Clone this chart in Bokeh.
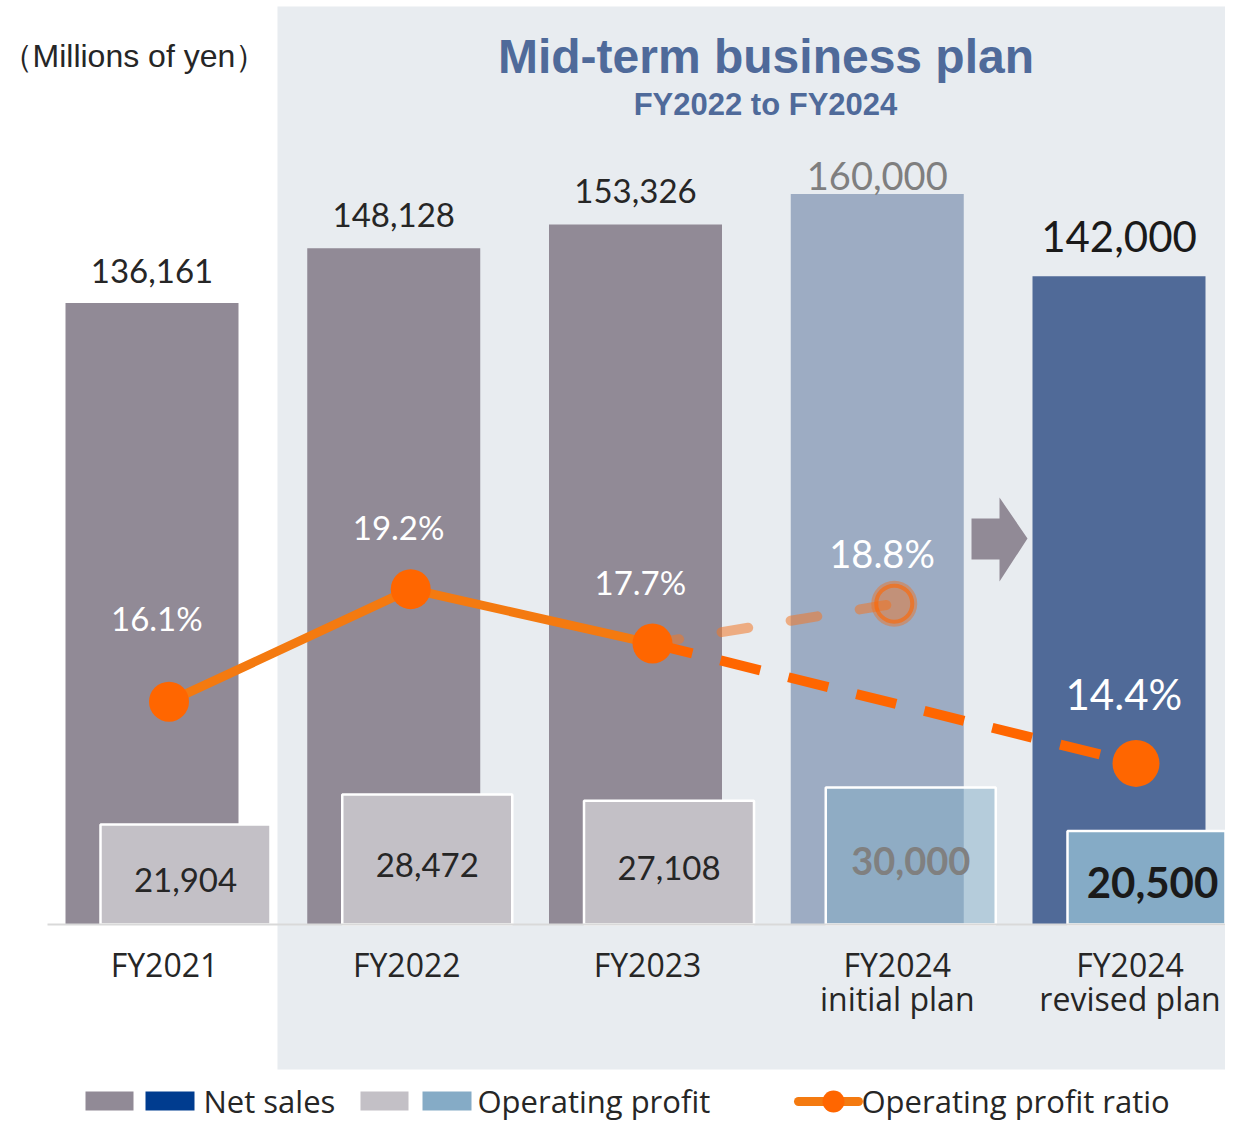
from bokeh.plotting import figure
from bokeh.models import Range1d
from bokeh.core.properties import value
from bokeh.embed import file_html
from bokeh.resources import INLINE

# ---------------- data ----------------
categories = ["FY2021", "FY2022", "FY2023", "FY2024\ninitial plan", "FY2024\nrevised plan"]
net_sales = [136161, 148128, 153326, 160000, 142000]
operating_profit = [21904, 28472, 27108, 30000, 20500]
profit_ratio = [16.1, 19.2, 17.7, 18.8, 14.4]

# ---------------- layout (pixels) ----------------
W, H = 1225, 1120
CAT_PX = 241.75          # px between categories
FIRST_PX = 151.5         # px of first category centre
BASE_PX = 924            # px of the zero line
Y_PER_PX = 219.06        # millions of yen per px
R_PX_PER_UNIT = 36.3     # px per percentage point
R_TOP = 35.416

x_range = Range1d(-FIRST_PX / CAT_PX, (W - FIRST_PX) / CAT_PX)
y_range = Range1d(-(H - BASE_PX) * Y_PER_PX, BASE_PX * Y_PER_PX)
ratio_range = Range1d(R_TOP - H / R_PX_PER_UNIT, R_TOP)


def fx(px):
    return x_range.start + px / CAT_PX


def fy(py):
    return y_range.end - py * Y_PER_PX


p = figure(width=W, height=H, x_range=x_range, y_range=y_range,
           output_backend="svg", toolbar_location=None,
           min_border=0, min_border_left=0, min_border_right=0,
           min_border_top=0, min_border_bottom=0)
p.extra_y_ranges = {"ratio": ratio_range}
p.xaxis.visible = False
p.yaxis.visible = False
p.grid.visible = False
p.outline_line_color = None
p.background_fill_color = "white"
p.border_fill_color = "white"

# mid-term plan panel
p.quad(left=[fx(277)], right=[x_range.end], top=[fy(6)], bottom=[fy(1069)],
       fill_color="#E8ECF0", line_color=None)

xs = list(range(len(categories)))

# net sales bars
net_colors = ["#918A96", "#918A96", "#918A96", "#9DACC3", "#506A98"]
p.vbar(x=xs, top=net_sales, bottom=0, width=173 / CAT_PX,
       fill_color=net_colors, line_color=None)

# operating profit bars
op_x = [i + 33.5 / CAT_PX for i in xs]
op_colors = ["#C3C0C6", "#C3C0C6", "#C3C0C6", "#81ACC6", "#85ABC6"]
op_alpha = [1, 1, 1, 0.5, 1]
p.vbar(x=op_x, top=operating_profit, bottom=0, width=170 / CAT_PX,
       fill_color=op_colors, fill_alpha=op_alpha,
       line_color="white", line_width=2.5)

# baseline
p.line(x=[fx(47), x_range.end], y=[0, 0], line_color="#D9D9D9", line_width=2)

# arrow between initial and revised plan
arrow_px = [(971, 518), (999, 518), (999, 497), (1027, 538), (999, 581), (999, 559), (971, 559)]
p.patch(x=[fx(a) for a, b in arrow_px], y=[fy(b) for a, b in arrow_px],
        fill_color="#918A96", line_color=None)

# operating profit ratio line
rx = [i + 17 / CAT_PX for i in xs]
p.line(x=[rx[2], rx[3]], y=[profit_ratio[2], profit_ratio[3]], y_range_name="ratio",
       line_color="#F07828", line_alpha=0.55, line_width=10, line_dash="27 43",
       line_cap="round")
p.line(x=[rx[2], rx[4]], y=[profit_ratio[2], profit_ratio[4]], y_range_name="ratio",
       line_color="#FF6600", line_width=10, line_dash="41 29")
p.line(x=rx[:3], y=profit_ratio[:3], y_range_name="ratio",
       line_color="#F47A10", line_width=9, line_join="round")
p.scatter(x=[rx[0], rx[1], rx[2], rx[4]],
          y=[profit_ratio[0], profit_ratio[1], profit_ratio[2], profit_ratio[4]],
          size=[40, 40, 40, 47], y_range_name="ratio",
          fill_color="#FF6600", line_color=None)
p.scatter(x=[rx[3]], y=[profit_ratio[3]], size=46, y_range_name="ratio",
          fill_color="#F07020", fill_alpha=0.45, line_color=None)
p.scatter(x=[rx[3]], y=[profit_ratio[3]], size=36, y_range_name="ratio",
          fill_color=None, line_color="#FF6600", line_alpha=0.6, line_width=4)

# ---------------- labels ----------------
num_font = value("Lato")
cat_font = value("Open Sans")

net_lbl = [f"{v:,}" for v in net_sales]
net_lift = [32, 33, 34, 18, 40]
net_size = ["33px", "33px", "33px", "38px", "42px"]
net_color = ["#262626", "#262626", "#262626", "#7F7F7F", "#1A1A1A"]
for i in xs:
    p.text(x=[i], y=[net_sales[i] + net_lift[i] * Y_PER_PX], text=[net_lbl[i]],
           text_font=num_font, text_font_size=net_size[i], text_color=net_color[i],
           text_align="center", text_baseline="middle")

op_lbl = [f"{v:,}" for v in operating_profit]
op_size = ["33px", "33px", "33px", "38px", "42px"]
op_style = ["normal", "normal", "normal", "bold", "bold"]
op_tcolor = ["#262626", "#262626", "#262626", "#808080", "#1A1A1A"]
for i in xs:
    p.text(x=[op_x[i]], y=[operating_profit[i] / 2 - 5 * Y_PER_PX], text=[op_lbl[i]],
           text_font=num_font, text_font_size=op_size[i], text_font_style=op_style[i],
           text_color=op_tcolor[i], text_align="center", text_baseline="middle")

ratio_lbl = [f"{v:.1f}%" for v in profit_ratio]
ratio_lift = [84, 62, 62, 51, 69]
ratio_size = ["33px", "33px", "33px", "38px", "42px"]
for i in xs:
    p.text(x=[i + 0.02], y=[profit_ratio[i] + ratio_lift[i] / R_PX_PER_UNIT],
           y_range_name="ratio", text=[ratio_lbl[i]],
           text_font=num_font, text_font_size=ratio_size[i], text_color="white",
           text_align="center", text_baseline="middle")

# category labels
cat_shift = [12.5, 13, 12, 20, 11]
p.text(x=[i + cat_shift[i] / CAT_PX for i in xs], y=[fy(942)] * len(xs), text=categories,
       text_font=cat_font, text_font_size="32px", text_color="#262626",
       text_align="center", text_baseline="top", text_line_height=0.8)

# title, subtitle, unit
p.text(x=[fx(765.5)], y=[fy(56)], text=["Mid-term business plan"],
       text_font=value("Liberation Sans"), text_font_size="48px", text_font_style="bold",
       text_color="#4F6A9A", text_align="center", text_baseline="middle")
p.text(x=[fx(765)], y=[fy(104)], text=["FY2022 to FY2024"],
       text_font=value("Liberation Sans"), text_font_size="31px", text_font_style="bold",
       text_color="#4F6A9A", text_align="center", text_baseline="middle")
p.text(x=[fx(0)], y=[fy(55)], text=["（Millions of yen）"],
       text_font=value("Liberation Sans"), text_font_size="32px",
       text_color="#262626", text_align="left", text_baseline="middle")

# ---------------- legend ----------------
LEG_MID = 1100
sw = [(85, 133, "#918A96"), (145, 194, "#003C8F"), (360, 408, "#C3C0C6"), (422, 471, "#85ABC6")]
p.quad(left=[fx(a) for a, b, c in sw], right=[fx(b) for a, b, c in sw],
       top=[fy(LEG_MID - 9)] * 4, bottom=[fy(LEG_MID + 10)] * 4,
       fill_color=[c for a, b, c in sw], line_color=None)
p.line(x=[fx(798), fx(858)], y=[fy(LEG_MID + 1)] * 2, line_color="#F47A10", line_width=9,
       line_cap="round")
p.scatter(x=[fx(833)], y=[fy(LEG_MID + 1)], size=22, fill_color="#FF6600", line_color=None)
p.text(x=[fx(203), fx(477), fx(861)], y=[fy(LEG_MID)] * 3,
       text=["Net sales", "Operating profit", "Operating profit ratio"],
       text_font=cat_font, text_font_size="31px", text_color="#262626",
       text_align="left", text_baseline="middle")

open("out.html", "w").write(file_html(p, INLINE))
